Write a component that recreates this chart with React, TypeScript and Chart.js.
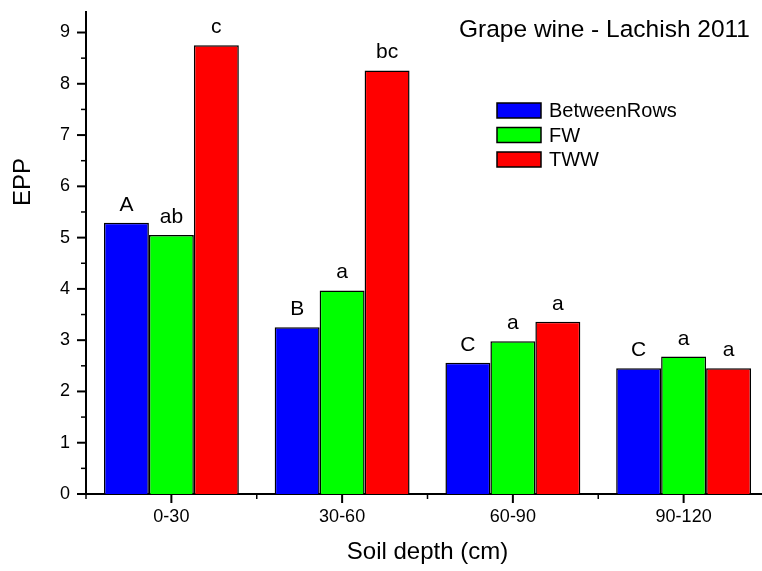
import React, { useEffect, useRef } from "react";
import { Chart, registerables } from "chart.js";

Chart.register(...registerables);

// Soil depth classes on the x axis
const depths = ["0-30", "30-60", "60-90", "90-120"];

// EPP per treatment and depth
const betweenRows = [5.29, 3.25, 2.56, 2.45];
const fw = [5.05, 3.97, 2.98, 2.68];
const tww = [8.75, 8.26, 3.36, 2.45];

// Significance letters written above each bar
const lettersBetweenRows = ["A", "B", "C", "C"];
const lettersFw = ["ab", "a", "a", "a"];
const lettersTww = ["c", "bc", "a", "a"];

const seriesNames = ["BetweenRows", "FW", "TWW"];
const seriesColors = ["#0000FF", "#00FF00", "#FF0000"];

const chartTitle = "Grape wine - Lachish 2011";
const xTitle = "Soil depth (cm)";
const yTitle = "EPP";

const FONT = "'Liberation Sans', Arial, Helvetica, sans-serif";

const barLetters = [lettersBetweenRows, lettersFw, lettersTww];

// Letters above the bars
const letterPlugin = {
  id: "barLetters",
  afterDatasetsDraw(chart: any) {
    const ctx = chart.ctx;
    ctx.save();
    ctx.font = `21px ${FONT}`;
    ctx.fillStyle = "#000";
    ctx.textAlign = "center";
    ctx.textBaseline = "alphabetic";
    chart.data.datasets.forEach((_ds: any, di: number) => {
      const meta = chart.getDatasetMeta(di);
      meta.data.forEach((bar: any, i: number) => {
        ctx.fillText(barLetters[di][i], bar.x, bar.y - 12);
      });
    });
    ctx.restore();
  },
};

// Outward major and minor tick marks on both axes
const tickPlugin = {
  id: "axisTicks",
  afterDraw(chart: any) {
    const { ctx, chartArea } = chart;
    const x = chart.scales.x;
    const y = chart.scales.y;
    ctx.save();
    ctx.strokeStyle = "#000";
    const line = (x1: number, y1: number, x2: number, y2: number, w: number) => {
      ctx.lineWidth = w;
      ctx.beginPath();
      ctx.moveTo(x1, y1);
      ctx.lineTo(x2, y2);
      ctx.stroke();
    };
    const majors = y.ticks.map((t: any) => t.value);
    majors.forEach((v: number, k: number) => {
      const py = y.getPixelForValue(v);
      line(chartArea.left - 9, py, chartArea.left, py, 2);
      if (k < majors.length - 1) {
        const pm = y.getPixelForValue((v + majors[k + 1]) / 2);
        line(chartArea.left - 5, pm, chartArea.left, pm, 1.5);
      }
    });
    const n = depths.length;
    const step = (x.right - x.left) / n;
    for (let i = 0; i < n; i++) {
      const px = x.getPixelForValue(i);
      line(px, chartArea.bottom, px, chartArea.bottom + 9, 2);
    }
    for (let i = 0; i <= n; i++) {
      const px = x.left + i * step;
      line(px, chartArea.bottom, px, chartArea.bottom + 5, 1.5);
    }
    ctx.restore();
  },
};

// Title, legend and rotated y title
const textPlugin = {
  id: "chartTexts",
  afterDraw(chart: any) {
    const ctx = chart.ctx;
    ctx.save();
    ctx.fillStyle = "#000";

    ctx.font = `24.5px ${FONT}`;
    ctx.textAlign = "right";
    ctx.textBaseline = "alphabetic";
    ctx.fillText(chartTitle, 750, 37);

    ctx.font = `24px ${FONT}`;
    ctx.save();
    ctx.translate(30, 182);
    ctx.rotate(-Math.PI / 2);
    ctx.textAlign = "center";
    ctx.fillText(yTitle, 0, 0);
    ctx.restore();

    const lx = 497;
    const ly = 103;
    const rowGap = 24.5;
    ctx.font = `20px ${FONT}`;
    ctx.textAlign = "left";
    ctx.textBaseline = "middle";
    chart.data.datasets.forEach((ds: any, i: number) => {
      const top = ly + i * rowGap;
      ctx.fillStyle = ds.backgroundColor;
      ctx.fillRect(lx, top, 44, 15);
      ctx.lineWidth = 1.5;
      ctx.strokeStyle = "#000";
      ctx.strokeRect(lx, top, 44, 15);
      ctx.fillStyle = "#000";
      ctx.fillText(ds.label, lx + 52, top + 8.5);
    });
    ctx.restore();
  },
};

export default function App() {
  const canvasRef = useRef<HTMLCanvasElement | null>(null);

  useEffect(() => {
    const canvas = canvasRef.current;
    if (!canvas) return;
    const seriesValues = [betweenRows, fw, tww];
    const chart = new Chart(canvas, {
      type: "bar",
      data: {
        labels: depths,
        datasets: seriesNames.map((name, i) => ({
          label: name,
          data: seriesValues[i],
          backgroundColor: seriesColors[i],
          borderColor: "#000",
          borderWidth: 1.5,
          categoryPercentage: 0.79,
          barPercentage: 1.0,
        })),
      },
      options: {
        responsive: false,
        animation: false,
        devicePixelRatio: 1,
        layout: { padding: { left: 0, right: 21, top: 12, bottom: 0 } },
        plugins: {
          legend: { display: false },
          title: { display: false },
          tooltip: { enabled: false },
        },
        scales: {
          x: {
            offset: true,
            grid: { display: false, drawTicks: false },
            border: { display: true, color: "#000", width: 2 },
            ticks: { color: "#000", font: { family: FONT, size: 18 }, padding: 12 },
            title: {
              display: true,
              text: xTitle,
              color: "#000",
              font: { family: FONT, size: 24 },
              padding: { top: 0, bottom: 4 },
            },
            afterFit: (s: any) => {
              s.height = 77;
              s.paddingLeft = 0;
              s.paddingRight = 0;
            },
          },
          y: {
            min: 0,
            max: 9.4,
            grid: { display: false, drawTicks: false },
            border: { display: true, color: "#000", width: 2 },
            ticks: {
              stepSize: 1,
              includeBounds: false,
              color: "#000",
              font: { family: FONT, size: 18 },
              padding: 16,
            },
            afterFit: (s: any) => {
              s.width = 86;
              s.paddingTop = 0;
              s.paddingBottom = 0;
            },
          },
        },
      },
      plugins: [letterPlugin, tickPlugin, textPlugin],
    } as any);
    return () => chart.destroy();
  }, []);

  return (
    <div
      style={{
        position: "fixed",
        left: 0,
        top: 0,
        width: 762,
        height: 571,
        overflow: "hidden",
        background: "#fff",
      }}
    >
      <canvas ref={canvasRef} width={790} height={571} style={{ display: "block" }} />
    </div>
  );
}
